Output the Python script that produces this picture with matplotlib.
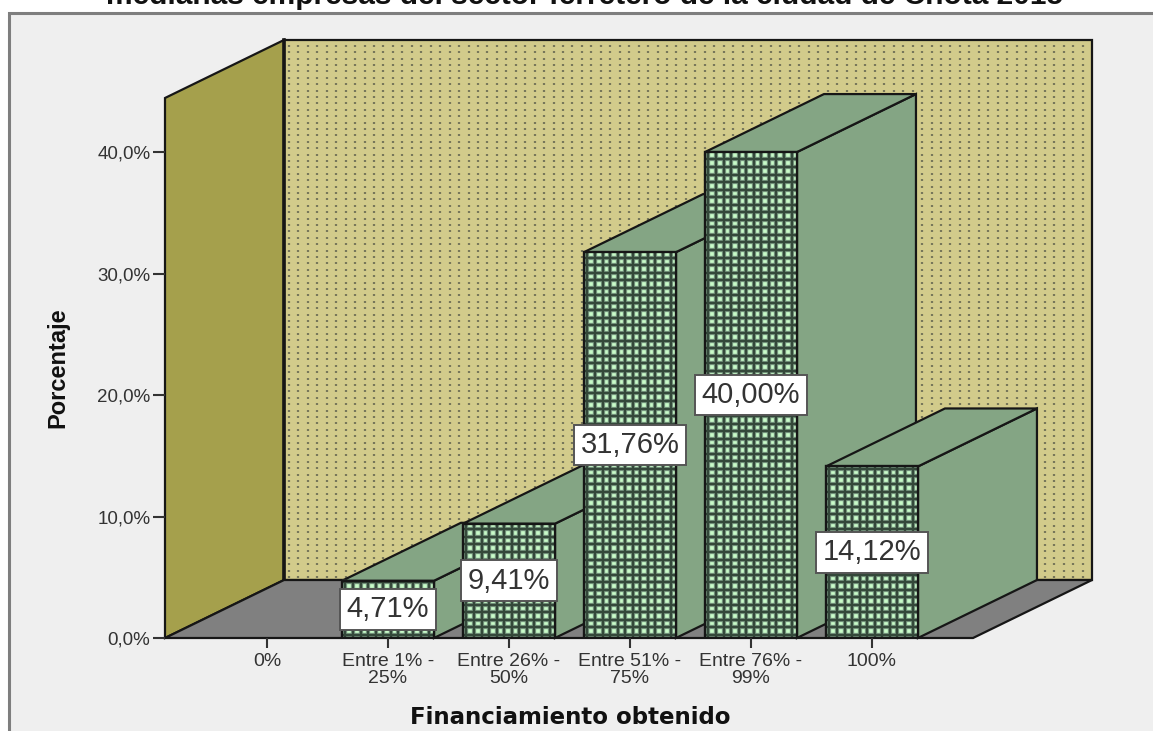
import numpy as np
import matplotlib
matplotlib.use("Agg")
import matplotlib.pyplot as plt
from matplotlib.patches import Polygon, Rectangle

# chart data
categories = ['0%', 'Entre 1% -\n25%', 'Entre 26% -\n50%', 'Entre 51% -\n75%', 'Entre 76% -\n99%', '100%']
values = [0, 4.71, 9.41, 31.76, 40.00, 14.12]
value_labels = ['', '4,71%', '9,41%', '31,76%', '40,00%', '14,12%']
y_ticks = [0, 10, 20, 30, 40]
y_tick_labels = ['0,0%', '10,0%', '20,0%', '30,0%', '40,0%']

W, H = 1153, 731
BG = '#EFEFEF'
EDGE = '#161616'
SIDE = '#84A584'

plt.rcParams['font.family'] = ['Liberation Sans', 'DejaVu Sans']

fig = plt.figure(figsize=(W / 100, H / 100), dpi=100, facecolor='white')

# grey chart frame, cut by the right and bottom edges of the image
fig.patches.append(Rectangle((9 / W, -0.01), 1.1, (H - 13) / H + 0.01, transform=fig.transFigure,
                             facecolor=BG, edgecolor='#7E7E7E', linewidth=2.2, zorder=-1))

# axes covers the front plane of the 3d box
ax = fig.add_axes([165 / W, (H - 638) / H, (973 - 165) / W, (638 - 98) / H])
ax.patch.set_alpha(0)
ax.set_xlim(-0.843, 5.835)
ax.set_ylim(0, 44.45)
for s in ax.spines.values():
    s.set_visible(False)

x0, x1 = ax.get_xlim()
px_x = 121.0   # pixels per category
px_y = 12.15   # pixels per percent
dx = 119 / px_x
dy = 58 / px_y
top = 44.45
bar_w = 92 / px_x

# back wall, side wall, floor
wall = Polygon([(x0 + dx, dy), (x1 + dx, dy), (x1 + dx, top + dy), (x0 + dx, top + dy)],
               closed=True, facecolor='#D2CB8B', edgecolor=EDGE, linewidth=1.6, zorder=1, clip_on=False)
ax.add_patch(wall)
xs = np.arange(x0 + dx + 5 / px_x, x1 + dx, 9.45 / px_x)
ys = np.arange(dy + 3 / px_y, top + dy - 1 / px_y, 6.4 / px_y)
gx, gy = np.meshgrid(xs, ys)
ax.scatter(gx.ravel(), gy.ravel(), s=4, marker='|', color='#77775A', linewidths=1.6, zorder=1.1, clip_on=False)

ax.add_patch(Polygon([(x0, 0), (x0 + dx, dy), (x0 + dx, top + dy), (x0, top)], closed=True,
                     facecolor='#A5A04C', edgecolor=EDGE, linewidth=1.6, zorder=1.3, clip_on=False))
ax.plot([x0 + dx, x0 + dx], [dy, top + dy], color=EDGE, linewidth=2.6, zorder=1.4, clip_on=False)
ax.add_patch(Polygon([(x0, 0), (x1, 0), (x1 + dx, dy), (x0 + dx, dy)], closed=True,
                     facecolor='#808080', edgecolor=EDGE, linewidth=1.6, zorder=1.5, clip_on=False))

# bars, left to right so each one covers the side of the previous
for i, v in enumerate(values):
    if v <= 0:
        continue
    z = 2 + i
    l, r = i - bar_w / 2, i + bar_w / 2
    ax.add_patch(Polygon([(r, 0), (r + dx, dy), (r + dx, v + dy), (r, v)], closed=True,
                         facecolor=SIDE, edgecolor=EDGE, linewidth=1.6, zorder=z, clip_on=False))
    ax.add_patch(Polygon([(l, v), (r, v), (r + dx, v + dy), (l + dx, v + dy)], closed=True,
                         facecolor=SIDE, edgecolor=EDGE, linewidth=1.6, zorder=z, clip_on=False))
    ax.add_patch(Rectangle((l, 0), bar_w, v, facecolor='#C8FBC8', edgecolor='none', zorder=z + 0.1))
    vx = np.arange(l + 3.5 / px_x, r, 7.55 / px_x)
    hy = np.arange(3 / px_y, v, 7.55 / px_y)
    # soft wide lines under thin dark ones, leaves small light squares
    ax.vlines(vx, 0, v, color='#7F9F88', linewidth=3.1, zorder=z + 0.15)
    ax.hlines(hy, l, r, color='#7F9F88', linewidth=3.1, zorder=z + 0.15)
    ax.vlines(vx, 0, v, color='#34483A', linewidth=1.7, zorder=z + 0.2)
    ax.hlines(hy, l, r, color='#34483A', linewidth=1.7, zorder=z + 0.2)
    ax.add_patch(Rectangle((l, 0), bar_w, v, facecolor='none', edgecolor=EDGE, linewidth=1.7, zorder=z + 0.3))

# value labels
for i, (v, lab) in enumerate(zip(values, value_labels)):
    if lab:
        ax.text(i, v / 2, lab, ha='center', va='center', fontsize=21, color='#333333', zorder=50,
                bbox=dict(boxstyle='square,pad=0.22', facecolor='white', edgecolor='#555555', linewidth=1.4))

ax.set_xticks(range(len(categories)))
ax.set_xticklabels(categories, fontsize=14, color='#333333', linespacing=1.0)
ax.set_yticks(y_ticks)
ax.set_yticklabels(y_tick_labels, fontsize=13.5, color='#333333')
ax.tick_params(axis='x', length=7.5, width=1.5, color='#333333', pad=3)
ax.tick_params(axis='y', length=9, width=1.5, color='#333333', pad=1.5)

fig.text(58 / W, (H - 368) / H, 'Porcentaje', rotation=90, ha='center', va='center',
         fontsize=17, fontweight='bold', color='#111111')
fig.text(570 / W, (H - 718) / H, 'Financiamiento obtenido', ha='center', va='center',
         fontsize=16.5, fontweight='bold', color='#111111', family='DejaVu Sans')

# title is cut by the top edge of the image
fig.text(585 / W, (H - 4) / H, 'medianas empresas del sector ferretero de la ciudad de Chota 2015',
         ha='center', va='baseline', fontsize=21.5, fontweight='bold', color='#111111')

fig.savefig('out.png', dpi=100, facecolor='white')
